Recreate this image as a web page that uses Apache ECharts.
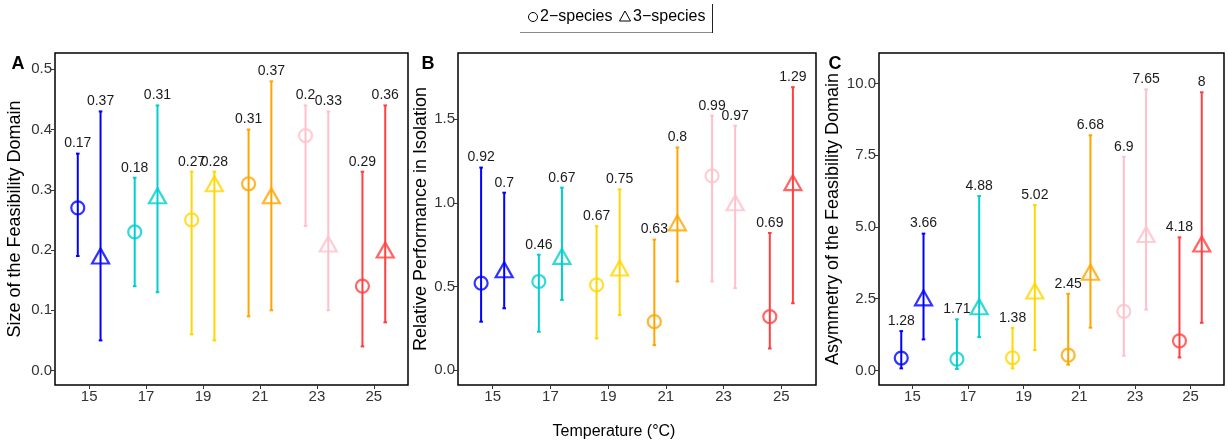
<!DOCTYPE html>
<html>
<head>
<meta charset="utf-8">
<script src="https://cdn.jsdelivr.net/npm/echarts@6/dist/echarts.min.js"></script>
<style>
html,body{margin:0;padding:0;background:#fff;}
#chart{width:1228px;height:444px;}
</style>
</head>
<body>
<div id="chart"></div>
<script>
// ---- data ----
const temps = [15, 17, 19, 21, 23, 25];
const tempColors = ['#0000FF', '#00CED1', '#FFD700', '#FFA500', '#FFC0CB', '#FF4040'];

// Panel A: Size of the Feasibility Domain
const A2_mean = [0.27, 0.23, 0.25, 0.31, 0.39, 0.14];
const A2_lo   = [0.19, 0.14, 0.06, 0.09, 0.24, 0.04];
const A2_hi   = [0.36, 0.32, 0.33, 0.40, 0.44, 0.33];
const A2_lab  = ['0.17', '0.18', '0.27', '0.31', '0.2', '0.29'];
const A3_mean = [0.19, 0.29, 0.31, 0.29, 0.21, 0.20];
const A3_lo   = [0.05, 0.13, 0.05, 0.10, 0.10, 0.08];
const A3_hi   = [0.43, 0.44, 0.33, 0.48, 0.43, 0.44];
const A3_lab  = ['0.37', '0.31', '0.28', '0.37', '0.33', '0.36'];

// Panel B: Relative Performance in Isolation
const B2_mean = [0.52, 0.53, 0.51, 0.29, 1.16, 0.32];
const B2_lo   = [0.29, 0.23, 0.19, 0.15, 0.53, 0.13];
const B2_hi   = [1.21, 0.69, 0.86, 0.78, 1.52, 0.82];
const B2_lab  = ['0.92', '0.46', '0.67', '0.63', '0.99', '0.69'];
const B3_mean = [0.60, 0.68, 0.61, 0.88, 1.00, 1.12];
const B3_lo   = [0.37, 0.42, 0.33, 0.53, 0.49, 0.40];
const B3_hi   = [1.06, 1.09, 1.08, 1.33, 1.46, 1.69];
const B3_lab  = ['0.7', '0.67', '0.75', '0.8', '0.97', '1.29'];

// Panel C: Asymmetry of the Feasibility Domain
const C2_mean = [0.43, 0.39, 0.44, 0.53, 2.06, 1.03];
const C2_lo   = [0.07, 0.05, 0.07, 0.20, 0.51, 0.45];
const C2_hi   = [1.37, 1.78, 1.48, 2.67, 7.45, 4.64];
const C2_lab  = ['1.28', '1.71', '1.38', '2.45', '6.9', '4.18'];
const C3_mean = [2.53, 2.22, 2.77, 3.42, 4.74, 4.41];
const C3_lo   = [1.08, 1.16, 0.71, 1.49, 2.12, 1.66];
const C3_hi   = [4.77, 6.08, 5.77, 8.20, 9.80, 9.70];
const C3_lab  = ['3.66', '4.88', '5.02', '6.68', '7.65', '8'];

const xTicks = [15, 17, 19, 21, 23, 25];
const yTicksA = [0, 0.1, 0.2, 0.3, 0.4, 0.5];
const yTicksB = [0, 0.5, 1.0, 1.5];
const yTicksC = [0, 2.5, 5.0, 7.5, 10.0];

const yTitles = ['Size of the Feasibility Domain', 'Relative Performance in Isolation', 'Asymmetry of the Feasibility Domain'];
const panelLetters = ['A', 'B', 'C'];
const xTitle = 'Temperature (°C)';
const legendLabels = ['2\u2212species', '3\u2212species'];

// ---- layout ----
const FONT = '"Liberation Sans", Arial, sans-serif';
const grids = [
  {left: 55, top: 53, width: 353, height: 332},
  {left: 458, top: 53, width: 358, height: 332},
  {left: 879, top: 53, width: 345, height: 332}
];
const yRanges = [[-0.024, 0.527], [-0.088, 1.894], [-0.51, 11.07]];
const yTickSets = [yTicksA, yTicksB, yTicksC];
const nameGaps = [31, 25, 37];
const dodge = 0.4;

const panels = [
  [[A2_mean, A2_lo, A2_hi, A2_lab], [A3_mean, A3_lo, A3_hi, A3_lab]],
  [[B2_mean, B2_lo, B2_hi, B2_lab], [B3_mean, B3_lo, B3_hi, B3_lab]],
  [[C2_mean, C2_lo, C2_hi, C2_lab], [C3_mean, C3_lo, C3_hi, C3_lab]]
];

const xAxes = [], yAxes = [], series = [];
grids.forEach((g, i) => {
  xAxes.push({
    type: 'value', gridIndex: i, min: 13.8, max: 26.2,
    axisLine: {show: false, onZero: false},
    splitLine: {show: false},
    axisTick: {show: true, inside: false, length: 4, customValues: xTicks, lineStyle: {color: '#333', width: 1}},
    axisLabel: {customValues: xTicks, color: '#333', fontSize: 15, fontFamily: FONT, margin: 4}
  });
  yAxes.push({
    type: 'value', gridIndex: i, min: yRanges[i][0], max: yRanges[i][1],
    name: yTitles[i], nameLocation: 'middle', nameGap: nameGaps[i],
    nameTextStyle: {fontSize: 18, fontFamily: FONT, color: '#000'},
    axisLine: {show: false, onZero: false},
    splitLine: {show: false},
    axisTick: {show: true, inside: false, length: 4, customValues: yTickSets[i], lineStyle: {color: '#333', width: 1}},
    axisLabel: {customValues: yTickSets[i], color: '#333', fontSize: 15, fontFamily: FONT, margin: 3,
      formatter: v => v.toFixed(1)}
  });
  panels[i].forEach((grp, k) => {
    const [mean, lo, hi, lab] = grp;
    const off = k === 0 ? -dodge : dodge;
    const barData = temps.map((t, j) => [t + off, lo[j], hi[j], j]);
    series.push({
      type: 'custom', xAxisIndex: i, yAxisIndex: i, z: 2,
      data: barData,
      renderItem: (params, api) => {
        const x = api.value(0);
        const pLo = api.coord([x, api.value(1)]);
        const pHi = api.coord([x, api.value(2)]);
        const j = api.value(3);
        const c = tempColors[j];
        const cap = 1.8;
        return {
          type: 'group',
          children: [
            {type: 'line', shape: {x1: pLo[0], y1: pLo[1], x2: pHi[0], y2: pHi[1]}, style: {stroke: c, lineWidth: 2}},
            {type: 'line', shape: {x1: pLo[0] - cap, y1: pLo[1], x2: pLo[0] + cap, y2: pLo[1]}, style: {stroke: c, lineWidth: 2}},
            {type: 'line', shape: {x1: pHi[0] - cap, y1: pHi[1], x2: pHi[0] + cap, y2: pHi[1]}, style: {stroke: c, lineWidth: 2}},
            {type: 'text', x: pHi[0], y: pHi[1] - 10,
              style: {text: lab[j], fill: '#1a1a1a', font: '14px ' + FONT, align: 'center', verticalAlign: 'middle'}}
          ]
        };
      }
    });
    series.push({
      type: 'scatter', xAxisIndex: i, yAxisIndex: i, z: 3,
      symbol: k === 0 ? 'circle' : 'triangle',
      symbolSize: k === 0 ? 13 : [17, 15],
      data: temps.map((t, j) => ({
        value: [t + off, mean[j]],
        itemStyle: {color: 'rgba(0,0,0,0)', borderColor: tempColors[j], borderWidth: 2.2}
      })),
      emphasis: {disabled: true}
    });
  });
});

const graphic = [];
// panel letters
[[18, 64], [428, 64], [835, 64]].forEach((p, i) => {
  graphic.push({type: 'text', x: p[0], y: p[1],
    style: {text: panelLetters[i], font: 'bold 18px ' + FONT, fill: '#000', align: 'center', verticalAlign: 'middle'}});
});
// x title
graphic.push({type: 'text', x: 614, y: 432,
  style: {text: xTitle, font: '16px ' + FONT, fill: '#000', align: 'center', verticalAlign: 'middle'}});
// legend
graphic.push({type: 'circle', shape: {cx: 533, cy: 17, r: 4.5}, style: {stroke: '#000', fill: 'none', lineWidth: 1}});
graphic.push({type: 'text', x: 540, y: 17,
  style: {text: legendLabels[0], font: '16px ' + FONT, fill: '#000', align: 'left', verticalAlign: 'middle'}});
graphic.push({type: 'polygon', shape: {points: [[625, 11], [630.5, 21], [619.5, 21]]}, style: {stroke: '#000', fill: 'none', lineWidth: 1}});
graphic.push({type: 'text', x: 633, y: 17,
  style: {text: legendLabels[1], font: '16px ' + FONT, fill: '#000', align: 'left', verticalAlign: 'middle'}});
graphic.push({type: 'line', shape: {x1: 520, y1: 32.5, x2: 713, y2: 32.5}, style: {stroke: '#888', lineWidth: 1}});
graphic.push({type: 'line', shape: {x1: 712.5, y1: 4, x2: 712.5, y2: 33}, style: {stroke: '#222', lineWidth: 1}});

const option = {
  animation: false,
  backgroundColor: '#fff',
  grid: grids.map(g => Object.assign({show: true, borderColor: '#000', borderWidth: 1.5, backgroundColor: 'transparent'}, g)),
  xAxis: xAxes,
  yAxis: yAxes,
  series: series,
  graphic: graphic
};
const chart = echarts.init(document.getElementById('chart'), null, {renderer: 'canvas'});
chart.setOption(option);
</script>
</body>
</html>
